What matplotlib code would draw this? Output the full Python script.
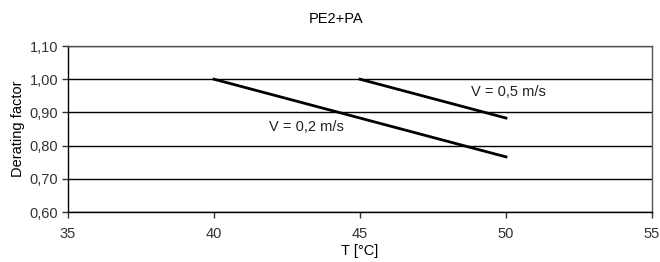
import matplotlib.pyplot as plt

plt.rcParams["font.family"] = ["Liberation Sans", "DejaVu Sans"]

# data
t_02 = [40, 50]
f_02 = [1.00, 0.766]
t_05 = [45, 50]
f_05 = [1.00, 0.883]
x_ticks = [35, 40, 45, 50, 55]
y_ticks = [0.60, 0.70, 0.80, 0.90, 1.00, 1.10]

fig = plt.figure(figsize=(6.6, 2.62), dpi=100)
ax = fig.add_axes([68 / 660, 1 - 212 / 262, (652 - 68) / 660, (212 - 46) / 262])

ax.plot(t_02, f_02, color="black", linewidth=2)
ax.plot(t_05, f_05, color="black", linewidth=2)

ax.set_xlim(35, 55)
ax.set_ylim(0.60, 1.10)
ax.set_xticks(x_ticks)
ax.set_yticks(y_ticks)
ax.set_yticklabels([f"{v:.2f}".replace(".", ",") for v in y_ticks])
ax.grid(axis="y", color="black", linewidth=1)
ax.set_axisbelow(True)
for s in ax.spines.values():
    s.set_color("#555555")
    s.set_linewidth(1)
ax.spines["left"].set_color("black")
ax.spines["bottom"].set_color("black")
ax.tick_params(labelsize=10.5, length=4, width=1, direction="out", colors="#333333")
ax.tick_params(axis="x", pad=7)
ax.tick_params(axis="y", pad=3)

ax.text(41.9, 0.856, "V = 0,2 m/s", fontsize=10.5, color="#222222", va="center")
ax.text(48.8, 0.961, "V = 0,5 m/s", fontsize=10.5, color="#222222", va="center")

ax.set_xlabel("T [°C]", fontsize=10.5, labelpad=2)
ax.set_ylabel("Derating factor", fontsize=10.5, labelpad=3)
fig.text(336 / 660, 1 - 19 / 262, "PE2+PA", fontsize=10.5, ha="center", va="center")

fig.savefig("out.png", dpi=100)
